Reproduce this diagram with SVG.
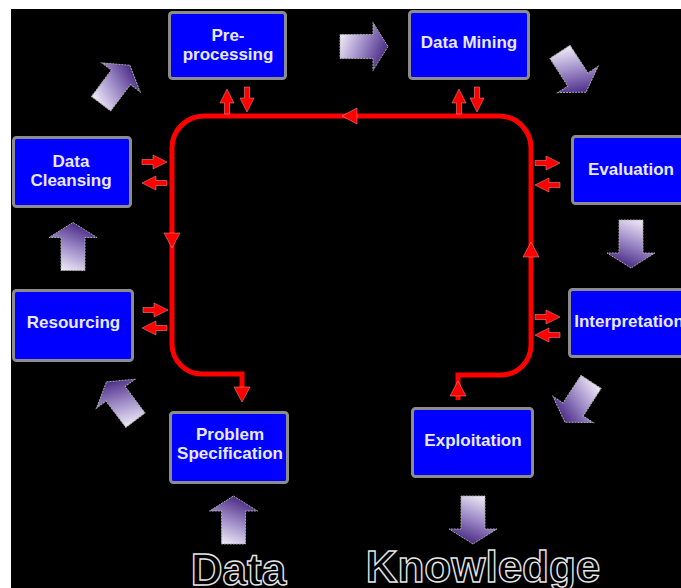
<svg xmlns="http://www.w3.org/2000/svg" width="681" height="588" viewBox="0 0 681 588">
<style>
.box{fill:#0000ff;stroke:#8c8c8c;stroke-width:3}
.lbl{font-family:"Liberation Sans",Arial,sans-serif;font-weight:bold;font-size:17px;fill:#e8e8ff;text-anchor:middle}
.big{font-family:"Liberation Sans",Arial,sans-serif;font-weight:bold;font-size:44px;fill:#000;stroke:#e6e6e6;stroke-width:1.4;text-anchor:middle}
.blk{fill:url(#pg);stroke:#aaaaaa;stroke-width:1;stroke-dasharray:2 1}
.loop{fill:none;stroke:#ff0000;stroke-width:5}
.red{fill:#ff0000;stroke:#ff9a9a;stroke-width:0.5}
</style>
<defs>
<linearGradient id="pg" x1="0.2" y1="1" x2="0.6" y2="0">
<stop offset="0" stop-color="#f4f1fa"/>
<stop offset="0.5" stop-color="#9f8cc8"/>
<stop offset="1" stop-color="#472683"/>
</linearGradient>
<path id="blockArrow" d="M0,-24 L24,-9 L12,-9 L12,24 L-12,24 L-12,-9 L-24,-9 Z"/>
<path id="ra" d="M0,-2.5 L11,-2.5 L11,-7 L25,0 L11,7 L11,2.5 L0,2.5 Z"/>
<path id="rh" d="M-15,-8 L0,0 L-15,8 Z"/>
</defs>
<rect x="0" y="0" width="681" height="588" fill="#ffffff"/>
<rect x="11" y="9" width="670" height="579" fill="#000000"/>

<g id="connectors">
<path class="loop" d="M458,400 V375 H501 A30,30 0 0 0 531,345 V148 A32,32 0 0 0 499,116 H204 A32,32 0 0 0 172,148 V344 A30,30 0 0 0 202,374 H242 V390"/>
<use href="#rh" class="red" transform="translate(342,116) rotate(180)"/>
<use href="#rh" class="red" transform="translate(172,248) rotate(90)"/>
<use href="#rh" class="red" transform="translate(531,242) rotate(-90)"/>
<use href="#rh" class="red" transform="translate(242,402) rotate(90)"/>
<use href="#rh" class="red" transform="translate(458,381) rotate(-90)"/>
<use href="#ra" class="red" transform="translate(227,114) rotate(-90)"/>
<use href="#ra" class="red" transform="translate(247,87) rotate(90)"/>
<use href="#ra" class="red" transform="translate(459,114) rotate(-90)"/>
<use href="#ra" class="red" transform="translate(477,87) rotate(90)"/>
<use href="#ra" class="red" transform="translate(142,162)"/>
<use href="#ra" class="red" transform="translate(167,183) rotate(180)"/>
<use href="#ra" class="red" transform="translate(143,310)"/>
<use href="#ra" class="red" transform="translate(167,328) rotate(180)"/>
<use href="#ra" class="red" transform="translate(535,163)"/>
<use href="#ra" class="red" transform="translate(560,185) rotate(180)"/>
<use href="#ra" class="red" transform="translate(535,317)"/>
<use href="#ra" class="red" transform="translate(560,335) rotate(180)"/>
<use href="#blockArrow" class="blk" transform="translate(115.5,84.5) rotate(37)"/>
<use href="#blockArrow" class="blk" transform="translate(364,46.5) rotate(90)"/>
<use href="#blockArrow" class="blk" transform="translate(573,72) rotate(147)"/>
<use href="#blockArrow" class="blk" transform="translate(631,244) rotate(180)"/>
<use href="#blockArrow" class="blk" transform="translate(578,402) rotate(213)"/>
<use href="#blockArrow" class="blk" transform="translate(473,520) rotate(180)"/>
<use href="#blockArrow" class="blk" transform="translate(233.5,520)"/>
<use href="#blockArrow" class="blk" transform="translate(121,401) rotate(-37)"/>
<use href="#blockArrow" class="blk" transform="translate(73,246.5)"/>
</g>

<g id="preprocessing">
<rect class="box" x="169.5" y="12.5" width="116" height="66" rx="3"/>
<text class="lbl" x="228" y="41">Pre-</text>
<text class="lbl" x="228" y="60">processing</text>
</g>
<g id="datamining">
<rect class="box" x="409.5" y="11.5" width="119" height="67" rx="3"/>
<text class="lbl" x="469" y="48">Data Mining</text>
</g>
<g id="datacleansing">
<rect class="box" x="13.5" y="137.5" width="117" height="69" rx="3"/>
<text class="lbl" x="71" y="167">Data</text>
<text class="lbl" x="71" y="186">Cleansing</text>
</g>
<g id="evaluation">
<rect class="box" x="572.5" y="136.5" width="120" height="67" rx="3"/>
<text class="lbl" x="631" y="175">Evaluation</text>
</g>
<g id="resourcing">
<rect class="box" x="13.5" y="290.5" width="119" height="70" rx="3"/>
<text class="lbl" x="73.5" y="328">Resourcing</text>
</g>
<g id="interpretation">
<rect class="box" x="569.5" y="289.5" width="120" height="67" rx="3"/>
<text class="lbl" x="629" y="327">Interpretation</text>
</g>
<g id="problemspec">
<rect class="box" x="170.5" y="412.5" width="117" height="70" rx="3"/>
<text class="lbl" x="230" y="440">Problem</text>
<text class="lbl" x="230" y="459">Specification</text>
</g>
<g id="exploitation">
<rect class="box" x="412.5" y="408.5" width="120" height="68" rx="3"/>
<text class="lbl" x="473" y="446">Exploitation</text>
</g>
<g id="data">
<text class="big" x="238.5" y="585">Data</text>
</g>
<g id="knowledge">
<text class="big" x="483" y="582">Knowledge</text>
</g>
</svg>
